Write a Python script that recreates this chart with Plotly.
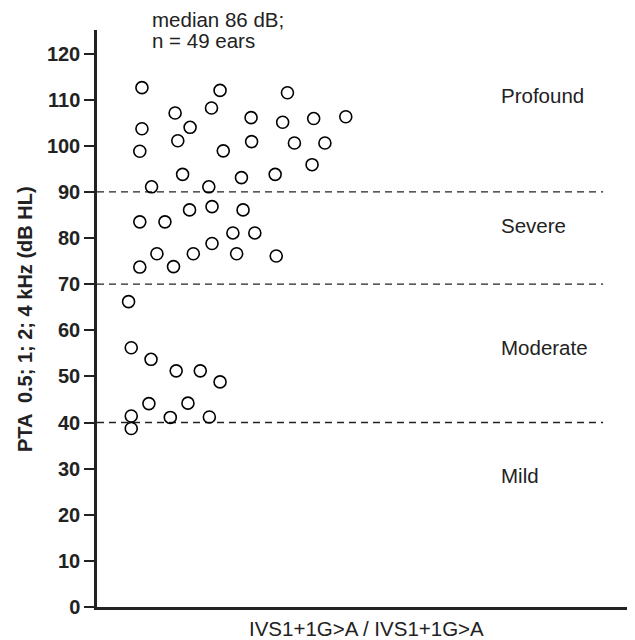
import plotly.graph_objects as go

# ---- data ----
category_label = "IVS1+1G>A / IVS1+1G>A"
# horizontal jitter positions (arbitrary 0-100 axis units) and PTA values (dB HL)
jitter_x = [8.4, 23.0, 35.6, 14.6, 21.4, 28.8, 34.7, 40.5, 46.5, 8.4, 17.4,
            15.1, 28.9, 36.9, 42.6, 8.0, 23.6, 40.2, 16.0, 27.0, 33.3, 10.2, 20.9,
            8.0, 12.7, 17.3, 21.5, 27.3, 25.4, 29.5, 21.5, 11.2, 18.0, 26.1, 33.5, 8.0, 14.3,
            5.9, 6.4, 10.1, 14.8, 19.3, 23.0, 9.7, 17.0, 6.4, 13.7, 21.0, 6.4]
pta_values = [112.6, 112.0, 111.5, 107.1, 108.2, 106.1, 105.1, 105.9, 106.3, 103.7, 104.0,
              101.1, 100.9, 100.6, 100.6, 98.8, 98.9, 95.9, 93.8, 93.1, 93.8, 91.1, 91.1,
              83.5, 83.5, 86.1, 86.8, 86.1, 81.1, 81.1, 78.8, 76.6, 76.6, 76.6, 76.1, 73.7, 73.8,
              66.2, 56.2, 53.7, 51.2, 51.2, 48.8, 44.1, 44.2, 41.4, 41.1, 41.2, 38.7]
thresholds = [90, 70, 40]
grade_labels = ["Profound", "Severe", "Moderate", "Mild"]
grade_label_y = [111, 82.8, 56.3, 28.5]
y_ticks = [0, 10, 20, 30, 40, 50, 60, 70, 80, 90, 100, 110, 120]
note_lines = ["median 86 dB;", "n = 49 ears"]

FONT = "Liberation Sans, Arial, Helvetica, sans-serif"
OFF = 8  # default page body margin
W, H = 635 - OFF, 640 - OFF
# desired plot area in window pixels: left 97, right 632, top 30, bottom 607
L, R, T, B = 97 - OFF, W - (632 - OFF), 30 - OFF, H - (607 - OFF)
PW, PH = W - L - R, H - T - B


def win_x(px):
    return (px - OFF - L) / PW


def win_y(py):
    return (H - B - (py - OFF)) / PH


fig = go.Figure()
fig.add_trace(go.Scatter(
    x=jitter_x, y=pta_values, mode="markers",
    marker=dict(symbol="circle-open", size=12, color="black", line=dict(width=1.6, color="black")),
    showlegend=False, hoverinfo="y"))

for t in thresholds:
    fig.add_shape(type="line", xref="x", yref="y", x0=0, x1=94.6, y0=t, y1=t,
                  line=dict(color="#222222", width=1.3, dash="7px,5px"), layer="below")

for lab, yy in zip(grade_labels, grade_label_y):
    fig.add_annotation(x=75.1, y=yy, xref="x", yref="y", text=lab, showarrow=False,
                       xanchor="left", yanchor="middle", font=dict(size=20.5, color="#222222", family=FONT))

for line, py in zip(note_lines, [20, 41]):
    fig.add_annotation(x=win_x(150), y=win_y(py), xref="paper", yref="paper", text=line,
                       showarrow=False, xanchor="left", yanchor="middle",
                       font=dict(size=20.5, color="#222222", family=FONT))

fig.add_annotation(x=win_x(366), y=win_y(628), xref="paper", yref="paper", text=category_label,
                   showarrow=False, xanchor="center", yanchor="middle",
                   font=dict(size=20.5, color="#222222", family=FONT))

fig.add_annotation(x=win_x(25), y=win_y(319), xref="paper", yref="paper",
                   text="PTA  0.5; 1; 2; 4 kHz (dB HL)", textangle=-90, showarrow=False,
                   xanchor="center", yanchor="middle",
                   font=dict(size=20, color="#222222", family=FONT, weight="bold"))

fig.update_layout(
    width=W, height=H,
    margin=dict(l=L, r=R, t=T, b=B, autoexpand=False),
    plot_bgcolor="white", paper_bgcolor="white",
    font=dict(family=FONT, color="#222222"),
    xaxis=dict(range=[0, 100], showline=True, linecolor="#222222", linewidth=2.5, automargin=False,
               showgrid=False, zeroline=False, ticks="", showticklabels=False),
    yaxis=dict(range=[0, 125.1], showline=True, linecolor="#222222", linewidth=2.5, automargin=False,
               showgrid=False, zeroline=False, ticks="outside", ticklen=10, tickwidth=1.6,
               tickcolor="#222222", tickvals=y_ticks,
               tickfont=dict(size=20, family=FONT, color="#222222", weight="bold")),
)

fig.write_html("out.html")
